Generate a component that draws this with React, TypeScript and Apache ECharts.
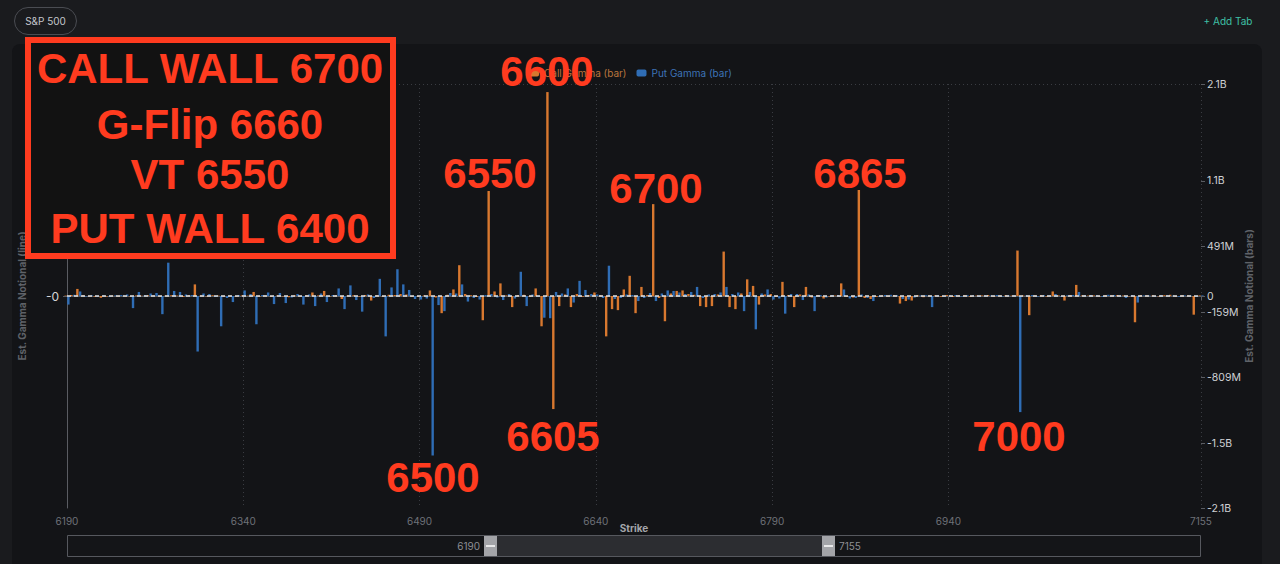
import React, { useEffect, useRef } from "react";
import * as echarts from "echarts";

// Strikes 6190 … 7155, step 5
const strikes: string[] = Array.from({ length: 194 }, (_, i) => String(6190 + 5 * i));

// Call gamma (millions)
const callGamma: number[] = [
  4, 10, 70, 6, -4, -8, -18, -6, 3, -5,
  2, -4, 6, 3, 8, 5, -6, 4, 8, 5,
  -10, 6, 115, 5, -4, 8, 4, -6, 3, -5,
  6, 4, 40, -5, 6, -8, 5, -4, -12, 6,
  -5, 8, 35, 6, 50, -4, 8, -30, 5, 8,
  -6, 10, -45, 8, -6, 12, 10, 20, 15, -8,
  -10, 6, 55, -15, -170, 12, 65, 305, 20, 8,
  -10, -240, 1040, 45, 125, 6, -110, 10, 12, -8,
  75, -300, 2020, -1120, -100, 15, -110, 20, -8, 10,
  35, 8, -400, -130, -140, 65, 200, -170, 90, 10,
  910, -20, -250, 25, 50, 55, 20, 12, -100, -110,
  -100, 15, 440, -110, -130, 25, 165, 100, -85, 15,
  20, -10, 140, 10, -110, 15, 90, -15, 8, -25,
  -6, 5, 125, -10, -15, 1050, -20, -30, -10, 4,
  -6, 10, -75, -50, -45, 8, -12, 5, 6, -8,
  10, -10, 5, 8, -10, 4, 6, 10, -6, 5,
  8, 4, 450, 6, -190, 5, 8, -6, 45, 6,
  -45, 8, 110, 6, 4, 6, -4, 8, 6, 10,
  5, -4, -260, 8, 5, 6, -4, 8, 12, -5,
  6, 4, -185, 6,
];

// Put gamma (millions)
const putGamma: number[] = [
  -85, 12, 45, -5, 6, -10, 5, -8, 6, 10,
  15, -120, 40, 8, 25, 30, -180, 330, 50, 40,
  15, 10, -550, 25, 20, -10, -300, -20, -60, 8,
  55, 20, -280, 10, 35, -80, 30, -70, -15, 20,
  -85, 15, -100, 25, -60, 10, 75, -130, 105, -40,
  -155, 15, -20, 170, -400, 85, 265, 115, 60, -30,
  -35, -25, -1580, -90, -150, 30, 25, 115, -55, -20,
  -35, 10, 20, -15, -40, 20, -25, 240, -100, 15,
  -10, -215, -220, 40, 25, 75, -65, 150, 60, 20,
  15, -20, 300, -30, -20, 15, 10, -50, -20, 30,
  -50, 25, 55, 50, 35, 20, 40, 90, -20, 15,
  20, 35, 90, 20, 35, -150, 40, -330, 25, 65,
  -35, -25, -175, 20, 20, -40, 15, -150, 10, -15,
  8, 10, 65, -25, -20, 15, -20, -50, -8, 10,
  12, 8, -30, -35, -15, 6, 8, -110, 6, -8,
  5, 10, -6, 8, 4, -10, 6, 5, 10, -5,
  6, 8, -1150, 5, 10, -6, 8, 5, 20, -5,
  6, 10, 40, 8, 10, 6, -8, 12, 10, 6,
  -20, 8, -65, 6, 5, -4, 8, 6, 5, -8,
  6, 4, -10, 6,
];

// Right axis tick values (millions)
const rightTicks: number[] = [-2100, -1460, -809, -159, 0, 491, 1140, 2100];
const leftTicks: number[] = [0];

// Key-level annotations
const keyLevels: string[] = ["CALL WALL 6700", "G-Flip 6660", "VT 6550", "PUT WALL 6400"];
const peakLabels: string[] = ["6600", "6550", "6700", "6865", "6605", "6500", "7000"];
const sliderLabels: string[] = ["6190", "7155"];

const RED = "#ff3b1f";
const FONT = '"Liberation Sans", Arial, sans-serif';
const UI = 'Inter, "Liberation Sans", Arial, sans-serif';

function fmtM(v: number): string {
  if (v === 0) return "0";
  if (Math.abs(v) >= 1000) return (v / 1000).toFixed(1) + "B";
  return Math.round(v) + "M";
}

export default function App() {
  const ref = useRef<HTMLDivElement>(null);

  useEffect(() => {
    const chart = echarts.init(ref.current!, null, { renderer: "svg" });
    const last = strikes.length - 1;
    const show = (i: number) => (i % 30 === 0 && i <= 150) || i === last;

    const keyY = [68, 124, 174, 228];
    const peakPos = [
      [547, 71], [490, 173], [656, 188], [860, 173], [553, 436], [433, 477], [1019, 436],
    ];

    const graphics: any[] = [
      // top bar
      { type: "rect", z: 1, shape: { x: 14.5, y: 7.5, width: 62, height: 27, r: 13.5 },
        style: { fill: "transparent", stroke: "#4a4c52", lineWidth: 1 } },
      { type: "text", z: 1, x: 45.5, y: 21,
        style: { text: "S&P 500", fill: "#c4c6cb", font: `10px ${UI}`, textAlign: "center", textVerticalAlign: "middle", verticalAlign: "middle" } },
      { type: "text", z: 1, x: 1228, y: 21,
        style: { text: "+ Add Tab", fill: "#3fc0a6", font: `10px ${UI}`, textAlign: "center", textVerticalAlign: "middle", verticalAlign: "middle" } },
      // slider
      { type: "rect", z: 1, shape: { x: 67.5, y: 535.5, width: 1133, height: 21 },
        style: { fill: "#141518", stroke: "#56585e", lineWidth: 1 } },
      { type: "rect", z: 1, shape: { x: 497, y: 536, width: 325, height: 20 },
        style: { fill: "#2c2d31" } },
      { type: "rect", z: 2, shape: { x: 484, y: 536, width: 13, height: 20 },
        style: { fill: "#a3a4a8" } },
      { type: "rect", z: 2, shape: { x: 822, y: 536, width: 13, height: 20 },
        style: { fill: "#a3a4a8" } },
      { type: "line", z: 3, shape: { x1: 486, y1: 546, x2: 495, y2: 546 },
        style: { stroke: "#ffffff", lineWidth: 1.5 } },
      { type: "line", z: 3, shape: { x1: 824, y1: 546, x2: 833, y2: 546 },
        style: { stroke: "#ffffff", lineWidth: 1.5 } },
      { type: "text", z: 3, x: 480, y: 546,
        style: { text: sliderLabels[0], fill: "#8d8f94", font: `10px ${UI}`, textAlign: "right", textVerticalAlign: "middle", verticalAlign: "middle" } },
      { type: "text", z: 3, x: 839, y: 546,
        style: { text: sliderLabels[1], fill: "#8d8f94", font: `10px ${UI}`, textAlign: "left", textVerticalAlign: "middle", verticalAlign: "middle" } },
      // red box
      { type: "rect", z: 100, shape: { x: 28, y: 40, width: 365, height: 216 },
        style: { fill: "#121212", stroke: RED, lineWidth: 6 } },
    ];
    keyLevels.forEach((t, k) => {
      graphics.push({
        type: "text", z: 101, x: 210, y: keyY[k],
        style: { text: t, fill: RED, font: `bold 42px ${FONT}`, textAlign: "center", textVerticalAlign: "middle", verticalAlign: "middle" },
      });
    });
    peakLabels.forEach((t, k) => {
      graphics.push({
        type: "text", z: 101, x: peakPos[k][0], y: peakPos[k][1],
        style: { text: t, fill: RED, font: `bold 42px ${FONT}`, textAlign: "center", textVerticalAlign: "middle", verticalAlign: "middle" },
      });
    });

    chart.setOption({
      animation: false,
      backgroundColor: "transparent",
      textStyle: { fontFamily: UI },
      legend: {
        top: 63,
        left: 524,
        itemWidth: 10,
        itemHeight: 7,
        itemGap: 10,
        icon: "roundRect",
        selectedMode: false,
        textStyle: { fontSize: 10, fontFamily: UI },
        data: [
          { name: "Call Gamma (bar)", textStyle: { color: "#b9743d" } },
          { name: "Put Gamma (bar)", textStyle: { color: "#3d72b6" } },
        ],
      },
      grid: { left: 67, right: 79, top: 84, bottom: 56, containLabel: false },
      xAxis: {
        type: "category",
        data: strikes,
        boundaryGap: false,
        name: "Strike",
        nameLocation: "middle",
        nameGap: 15,
        nameMoveOverlap: false,
        nameTextStyle: { color: "#a3a5aa", fontSize: 10, fontWeight: "bold", fontFamily: UI },
        axisLine: { lineStyle: { color: "#5a5c62", width: 1 } },
        axisTick: { show: true, interval: (i: number) => show(i), length: 4, lineStyle: { color: "#5a5c62" } },
        axisLabel: { interval: (i: number) => show(i), color: "#6e7177", fontSize: 10, margin: 8, fontFamily: UI },
        splitLine: { show: true, interval: (i: number) => show(i), lineStyle: { type: [1, 3], color: "#3a3c42", width: 1 } },
      },
      yAxis: [
        {
          type: "value",
          position: "left",
          min: -1,
          max: 1,
          name: "Est. Gamma Notional (line)",
          nameLocation: "middle",
          nameGap: 40,
          nameMoveOverlap: false,
          nameTextStyle: { color: "#5f6268", fontSize: 10, fontWeight: "bold", fontFamily: UI },
          axisLine: { show: true, lineStyle: { color: "#5a5c62" } },
          axisTick: { show: true, customValues: leftTicks, length: 4, lineStyle: { color: "#5a5c62" } },
          axisLabel: { customValues: leftTicks, formatter: () => "-0", color: "#d6d6d6", fontSize: 12, margin: 8, fontFamily: UI },
          splitLine: { show: false },
        },
        {
          type: "value",
          position: "right",
          min: -2100,
          max: 2100,
          name: "Est. Gamma Notional (bars)",
          nameLocation: "middle",
          nameGap: 43,
          nameMoveOverlap: false,
          nameTextStyle: { color: "#5f6268", fontSize: 10, fontWeight: "bold", fontFamily: UI },
          axisLine: { show: false },
          axisTick: { show: true, customValues: rightTicks, length: 4, lineStyle: { color: "#5a5c62" } },
          axisLabel: {
            customValues: rightTicks,
            formatter: (v: number) => fmtM(v),
            color: "#cfd1d5",
            fontSize: 10.5,
            margin: 6,
            fontFamily: UI,
          },
          splitLine: { show: false },
        },
      ],
      series: [
        {
          name: "Call Gamma (bar)",
          type: "bar",
          yAxisIndex: 1,
          data: callGamma,
          barWidth: 2.4,
          barGap: "15%",
          itemStyle: { color: "#d8782f" },
          emphasis: { disabled: true },
        },
        {
          name: "Put Gamma (bar)",
          type: "bar",
          yAxisIndex: 1,
          data: putGamma,
          barWidth: 2.4,
          barGap: "15%",
          itemStyle: { color: "#2f6db5" },
          emphasis: { disabled: true },
          markLine: {
            silent: true,
            symbol: "none",
            label: { show: false },
            data: [
              { yAxis: 0, lineStyle: { type: [4, 3], color: "#e4e4e4", width: 1.5 } },
              { yAxis: 2100, lineStyle: { type: [1, 3], color: "#3a3c42", width: 1 } },
            ],
          },
        },
      ],
      graphic: { elements: graphics },
    });

    return () => chart.dispose();
  }, []);

  return (
    <div style={{ position: "fixed", left: 0, top: 0, width: 1280, height: 564, background: "#1a1b1e", overflow: "hidden" }}>
      <div style={{ position: "absolute", left: 12, top: 44, width: 1250, height: 540, background: "#131417", borderRadius: 8 }} />
      <div ref={ref} style={{ position: "absolute", left: 0, top: 0, width: 1280, height: 564 }} />
    </div>
  );
}
